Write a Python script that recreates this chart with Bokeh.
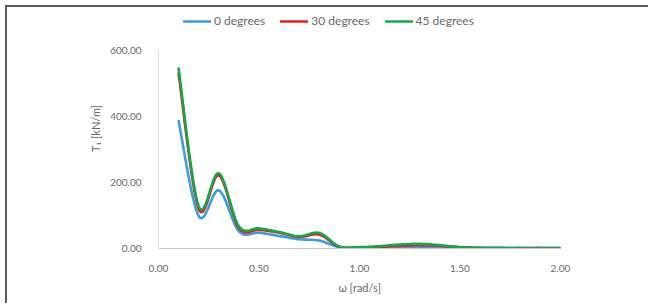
import numpy as np
from bokeh.plotting import figure
from bokeh.layouts import column
from bokeh.models import Range1d, FixedTicker, NumeralTickFormatter, Legend, LegendItem
from bokeh.embed import file_html
from bokeh.resources import INLINE

omega = [0.1, 0.2, 0.3, 0.4, 0.5, 0.6, 0.7, 0.8, 0.9, 1.0,
         1.1, 1.2, 1.3, 1.4, 1.5, 1.6, 1.7, 1.8, 1.9, 2.0]
t_0deg = [386, 98, 176, 52, 48, 38, 28, 24, 4, 3,
          4, 5, 5, 4, 2, 1, 1, 1, 1, 0.5]
t_30deg = [530, 120, 222, 62, 57, 48, 35, 42, 5, 3,
           5, 8, 10, 8, 4, 2, 1, 1, 1, 1]
t_45deg = [545, 128, 228, 67, 61, 50, 37, 47, 6, 4,
           7, 12, 14, 10, 4, 2, 2, 1, 1, 1]
series_names = ["0 degrees", "30 degrees", "45 degrees"]
series_colors = ["#3f9be0", "#f01818", "#14a84a"]
x_ticks = [0, 0.5, 1.0, 1.5, 2.0]
y_ticks = [0, 200, 400, 600]

FONT = "Lato"
TXT = "#6a6a6a"


def smooth(xs, ys, n=16):
    """Excel-style smoothed line: cubic Bezier through each data point."""
    x = np.asarray(xs, float)
    y = np.asarray(ys, float)
    px = np.concatenate([[x[0]], x, [x[-1]]])
    py = np.concatenate([[y[0]], y, [y[-1]]])
    ox, oy = [], []
    t = np.linspace(0, 1, n, endpoint=False)
    for i in range(len(x) - 1):
        p0x, p1x, p2x, p3x = px[i], px[i + 1], px[i + 2], px[i + 3]
        p0y, p1y, p2y, p3y = py[i], py[i + 1], py[i + 2], py[i + 3]
        c1x, c1y = p1x + (p2x - p0x) / 6, p1y + (p2y - p0y) / 6
        c2x, c2y = p2x - (p3x - p1x) / 6, p2y - (p3y - p1y) / 6
        b0, b1, b2, b3 = (1 - t) ** 3, 3 * (1 - t) ** 2 * t, 3 * (1 - t) * t ** 2, t ** 3
        ox.extend(b0 * p1x + b1 * c1x + b2 * c2x + b3 * p2x)
        oy.extend(b0 * p1y + b1 * c1y + b2 * c2y + b3 * p2y)
    ox.append(x[-1])
    oy.append(y[-1])
    return ox, oy


# canvas origin sits at page (7, 7); data area 0..600 spans 198 px,
# frame extends up to canvas y=1 so the legend can sit above the data
Y_TOP = 600 * (241 - 1) / 198.0

p = figure(width=641, height=296, output_backend="svg", toolbar_location=None,
           x_range=Range1d(0, 2), y_range=Range1d(0, Y_TOP),
           min_border_left=151, min_border_right=88, min_border_top=1, min_border_bottom=55)
p.outline_line_color = None
p.grid.grid_line_color = None

items = []
for name, col, ys in zip(series_names, series_colors, [t_0deg, t_30deg, t_45deg]):
    sx, sy = smooth(omega, ys)
    r = p.line(sx, sy, line_color=col, line_width=2.6, line_join="round", line_cap="round")
    items.append(LegendItem(label=name, renderers=[r]))

p.xaxis.ticker = FixedTicker(ticks=x_ticks)
p.yaxis.ticker = FixedTicker(ticks=y_ticks)
p.yaxis.bounds = (0, 600)
p.xaxis.formatter = NumeralTickFormatter(format="0.00")
p.yaxis.formatter = NumeralTickFormatter(format="0.00")
for ax in (p.xaxis, p.yaxis):
    ax.major_tick_line_color = None
    ax.minor_tick_line_color = None
    ax.major_label_text_font = FONT
    ax.major_label_text_font_size = "10px"
    ax.major_label_text_color = TXT
    ax.axis_label_text_font = FONT
    ax.axis_label_text_font_size = "11px"
    ax.axis_label_text_font_style = "normal"
    ax.axis_label_text_color = TXT
p.xaxis.axis_line_color = "#c8c8c8"
p.yaxis.axis_line_color = "#e0e0e0"
p.xaxis.major_label_standoff = 10
p.yaxis.major_label_standoff = 11
p.xaxis.axis_label = "ω [rad/s]"
p.yaxis.axis_label = "T₁ [kN/m]"
p.xaxis.axis_label_standoff = 6
p.yaxis.axis_label_standoff = 5

legend = Legend(items=items, orientation="horizontal", location=(25, 220),
                glyph_width=28, glyph_height=12, label_standoff=3, spacing=15,
                padding=0, margin=0, border_line_color=None, background_fill_alpha=0,
                label_text_font=FONT, label_text_font_size="12px", label_text_color=TXT,
                label_height=12)
p.add_layout(legend, "center")

page = column(p, styles={"margin-left": "5px", "margin-top": "5px",
                         "border-left": "2px solid #5a5a5a", "border-top": "2px solid #5a5a5a"})

open("out.html", "w").write(file_html(page, INLINE))
